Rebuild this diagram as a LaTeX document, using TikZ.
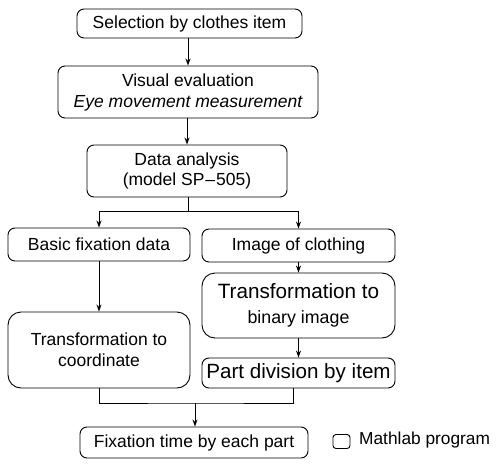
\documentclass[tikz,border=0pt]{standalone}
\usepackage{fontspec}
\setmainfont{Liberation Sans}
\usetikzlibrary{arrows.meta,calc}
\begin{document}
\begin{tikzpicture}[x=1pt,y=-1pt,
  box/.style={draw,line width=0.9pt,rounded corners=7pt,inner sep=0pt,align=center,font=\fontsize{17.5}{21}\selectfont},
  bigbox/.style={box,rounded corners=13pt},
  conn/.style={line width=0.9pt},
  arr/.style={conn,-{Stealth[length=7pt,width=5pt]}}]
\useasboundingbox (0,0) rectangle (496,466);
\node[box,minimum width=225pt,minimum height=29pt] (b1) at (189.5,23.5) {Selection by clothes item};
\node[box,minimum width=260pt,minimum height=52pt] (b2) at (188,92) {Visual evaluation\\\itshape Eye movement measurement};
\node[box,minimum width=200pt,minimum height=52pt,font=\fontsize{17.5}{19.5}\selectfont] (b3) at (187,171) {Data analysis\\(model SP\kern1pt--\kern1pt505)};
\node[box,minimum width=182pt,minimum height=33pt] (b4) at (99,244.5) {Basic fixation data};
\node[box,minimum width=193pt,minimum height=33pt] (b5) at (298.5,245.5) {Image of clothing};
\node[bigbox,minimum width=182pt,minimum height=76pt] (b6) at (99,350) {Transformation to\\coordinate};
\node[bigbox,minimum width=193pt,minimum height=65pt,font=\fontsize{20.7}{25}\selectfont] (b7) at (298.5,305.5) {Transformation to\\{\fontsize{17.8}{21}\selectfont binary image}};
\node[box,minimum width=193pt,minimum height=30pt,font=\fontsize{20.6}{24}\selectfont] (b8) at (298.5,373) {Part division by item};
\node[box,minimum width=228pt,minimum height=31pt] (b9) at (194,442.5) {Fixation time by each part};
\node[draw,line width=0.9pt,rounded corners=3pt,minimum width=17pt,minimum height=14pt,inner sep=0pt] (lg) at (341.5,441.5) {};
\node[anchor=west,inner sep=0pt,font=\fontsize{17.3}{20}\selectfont] (lgt) at (359,440) {Mathlab program};
\draw[arr] (b2.north |- b1.south) -- (b2.north);
\draw[arr] (b3.north |- b2.south) -- (b3.north);
\coordinate (j1) at (188,211);
\draw[conn] (j1 |- b3.south) -- (j1);
\draw[arr] (j1) -| (b4.north);
\draw[arr] (j1) -| (b5.north);
\draw[arr] (b4.south) -- (b6.north);
\draw[arr] (b5.south) -- (b7.north);
\draw[arr] (b7.south) -- (b8.north);
\coordinate (j2) at (195,403);
\coordinate (m8) at ($(b8.south)+(-5,0)$);
\draw[conn] (b6.south) |- (j2) -| (m8);
\draw[arr] (j2) -- (j2 |- b9.north);
\end{tikzpicture}
\end{document}
